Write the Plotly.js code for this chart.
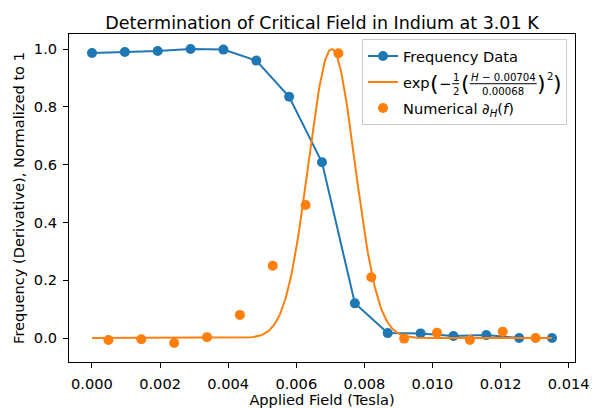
<!DOCTYPE html>
<html>
<head>
<meta charset="utf-8">
<script src="https://cdn.plot.ly/plotly-3.0.1.min.js"></script>
<style>html,body{margin:0;padding:0;background:#fff;}#chart{width:600px;height:408px;}</style>
</head>
<body>
<div id="chart"></div>
<script>
// Frequency data (applied field in Tesla, normalized frequency)
const fieldData = [0.0, 0.000965, 0.00193, 0.002895, 0.00386, 0.004825, 0.00579, 0.006755, 0.00772, 0.008685, 0.00965, 0.010615, 0.01158, 0.012545, 0.01351];
const freqData = [0.986, 0.990, 0.993, 1.000, 0.998, 0.960, 0.835, 0.608, 0.120, 0.017, 0.016, 0.007, 0.010, 0.000, 0.000];

// Numerical derivative (midpoints)
const fieldMid = [0.000483, 0.001448, 0.002413, 0.003378, 0.004343, 0.005308, 0.006273, 0.007238, 0.008203, 0.009168, 0.010133, 0.011098, 0.012063, 0.013028];
const derivData = [-0.007, -0.004, -0.017, 0.003, 0.080, 0.250, 0.460, 0.985, 0.210, -0.002, 0.018, -0.007, 0.022, 0.000];

// Gaussian fit parameters (from legend formula)
const fitMu = 0.00704;
const fitSigma = 0.00068;
const fitStart = 0.0, fitEnd = 0.01351, fitN = 400;
const fitX = [], fitY = [];
for (let i = 0; i <= fitN; i++) {
  const h = fitStart + (fitEnd - fitStart) * i / fitN;
  fitX.push(h);
  fitY.push(Math.exp(-0.5 * Math.pow((h - fitMu) / fitSigma, 2)));
}

const xTicks = [0.000, 0.002, 0.004, 0.006, 0.008, 0.010, 0.012, 0.014];
const xTickText = ['0.000', '0.002', '0.004', '0.006', '0.008', '0.010', '0.012', '0.014'];
const yTicks = [0.0, 0.2, 0.4, 0.6, 0.8, 1.0];
const yTickText = ['0.0', '0.2', '0.4', '0.6', '0.8', '1.0'];

const font = 'DejaVu Sans, sans-serif';
const BLUE = '#1f77b4', ORANGE = '#ff7f0e';
const FS = 14.6, TITLE_FS = 17.5;

// geometry
const L = 69, R = 25, T = 34, B = 46;
const W = 600 - L - R, H = 408 - T - B;
const px2x = p => (p - L) / W;
const py2y = p => (T + H - p) / H;

const legFont = FS;
const legRight = 567, legTop = 39, groupGap = 4;
const nbsp = 34;
const reservedW = nbsp * 0.3179 * legFont;
const ts = legRight - 6 - reservedW;           // formula text start (px)
const rowH = Math.max(legFont * 1.3, 16) + 3;
const rowC = legTop + 1 + rowH + rowH / 2 + 5 + groupGap;
const yb = rowC + 0.3 * legFont * 1.3 - 0.27 * legFont; // fraction bar height

const traces = [
  {x: fieldData, y: freqData, type: 'scatter', mode: 'lines+markers', name: 'Frequency Data', legendgroup: 'a',
   line: {color: BLUE, width: 2}, marker: {color: BLUE, size: 10}},
  {x: fitX, y: fitY, type: 'scatter', mode: 'lines', legendgroup: 'b',
   name: '\u00a0'.repeat(nbsp),
   line: {color: ORANGE, width: 2}},
  {x: fieldMid, y: derivData, type: 'scatter', mode: 'markers', legendgroup: 'c',
   name: 'Numerical ∂<sub><i>H</i></sub>(<i>f</i>)',
   marker: {color: ORANGE, size: 10}}
];

function ann(text, px, py, size, xanchor) {
  return {text: text, x: px2x(px), y: py2y(py), xref: 'paper', yref: 'paper', showarrow: false,
          xanchor: xanchor || 'left', yanchor: 'middle', borderpad: 0, borderwidth: 0,
          font: {family: font, size: size, color: '#000'}};
}
const small = 10.2, paren = 22;
const annotations = [
  ann('exp', ts, yb - 1, legFont),
  ann('(', ts + 27, yb, paren),
  ann('−', ts + 36, yb, legFont),
  ann('1', ts + 52.5, yb - 6.4, small, 'center'),
  ann('2', ts + 52.5, yb + 7.6, small, 'center'),
  ann('(', ts + 57.5, yb, paren),
  ann('<i>H</i> − 0.00704', ts + 100, yb - 6.4, small, 'center'),
  ann('0.00068', ts + 100, yb + 7.6, small, 'center'),
  ann(')', ts + 134, yb, paren),
  ann('2', ts + 146.5, yb - 7.5, small, 'center'),
  ann(')', ts + 150, yb, paren)
];
const shapes = [
  {type: 'line', xref: 'paper', yref: 'paper', x0: px2x(ts + 49), x1: px2x(ts + 56), y0: py2y(yb), y1: py2y(yb), line: {color: '#000', width: 1}},
  {type: 'line', xref: 'paper', yref: 'paper', x0: px2x(ts + 66.5), x1: px2x(ts + 133.5), y0: py2y(yb), y1: py2y(yb), line: {color: '#000', width: 1}}
];

const layout = {
  width: 600, height: 408,
  margin: {l: L, r: R, t: T, b: B},
  paper_bgcolor: '#fff', plot_bgcolor: '#fff',
  font: {family: font, size: FS, color: '#000'},
  title: {text: 'Determination of Critical Field in Indium at 3.01 K', font: {family: font, size: TITLE_FS, color: '#000'},
          x: 0.5, xref: 'paper', xanchor: 'center', y: 1, yref: 'paper', yanchor: 'bottom', pad: {b: 5}},
  xaxis: {range: [-0.000675, 0.014185], tickvals: xTicks, ticktext: xTickText,
          showgrid: false, zeroline: false, showline: true, mirror: true, linecolor: '#000', linewidth: 1,
          ticks: 'outside', ticklen: 5, tickwidth: 1, tickcolor: '#000', tickfont: {size: FS}, ticklabelstandoff: 3,
          title: {text: 'Applied Field (Tesla)', font: {size: FS}, standoff: 4}},
  yaxis: {range: [-0.083, 1.052], tickvals: yTicks, ticktext: yTickText,
          showgrid: false, zeroline: false, showline: true, mirror: true, linecolor: '#000', linewidth: 1,
          ticks: 'outside', ticklen: 5, tickwidth: 1, tickcolor: '#000', tickfont: {size: FS}, ticklabelstandoff: 3,
          title: {text: 'Frequency (Derivative), Normalized to 1', font: {size: FS}, standoff: 5}},
  showlegend: true,
  legend: {x: px2x(legRight), xanchor: 'right', y: py2y(legTop), yanchor: 'top', bgcolor: 'rgba(255,255,255,0)',
           bordercolor: '#cccccc', borderwidth: 1, font: {size: legFont}, tracegroupgap: groupGap, traceorder: 'grouped'},
  annotations: annotations,
  shapes: shapes
};

Plotly.newPlot('chart', traces, layout, {displayModeBar: false, staticPlot: true});
</script>
</body>
</html>
